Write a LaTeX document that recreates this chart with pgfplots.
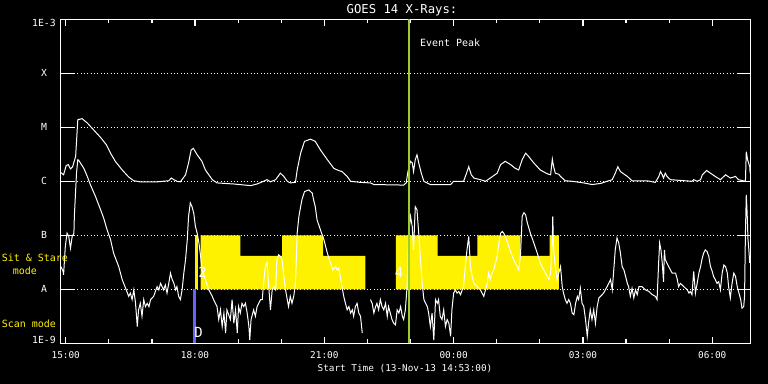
\documentclass[border=0pt]{standalone}
\usepackage{fontspec}
\setmainfont{DejaVu Sans Mono}
\usepackage{pgfplots}
\pgfplotsset{compat=1.18}
\definecolor{evgreen}{RGB}{154,205,50}
\definecolor{scanblue}{RGB}{100,100,255}
\begin{document}
\begin{tikzpicture}
\path[use as bounding box, fill=black] (0,0) rectangle (768bp,384bp);
\begin{axis}[
  at={(60.7bp,40.7bp)}, anchor=south west, scale only axis,
  width=689.6bp, height=324bp,
  xmin=-0.1167, xmax=15.8833, ymin=-9, ymax=-3,
  axis line style={white, line width=1.2bp},
  tick style={white, line width=1.2bp},
  tick align=inside,
  xtick={0,3,6,9,12,15},
  xticklabels={15:00,18:00,21:00,00:00,03:00,06:00},
  minor xtick={1,2,4,5,7,8,10,11,13,14},
  major tick length=6.7bp, minor tick length=4bp,
  ytick={-9,-8,-7,-6,-5,-4,-3},
  yticklabels={\raisebox{3.4bp}{1E-9},A,B,C,M,X,\raisebox{-4bp}{1E-3}},
  ytick style={/pgfplots/major tick length=13.5bp},
  ymajorgrids,
  major grid style={white, line width=1bp, dash pattern=on 1bp off 2.33bp},
  tick label style={font=\fontsize{9.4}{10}\selectfont, text=white, inner sep=0pt},
  xticklabel style={anchor=base, yshift=-15bp},
  yticklabel style={anchor=base, xshift=-16.7bp, yshift=-3.4bp, font=\fontsize{9.8}{11}\selectfont},
]
% Sit & Stare mode blocks
\addplot[fill=yellow, draw=none] coordinates {(3.01,-8) (3.01,-7) (3.06,-7) (3.06,-8)};
\addplot[fill=yellow, draw=none] coordinates {(3.13,-8) (3.13,-7) (4.05,-7) (4.05,-7.38) (5.02,-7.38) (5.02,-7) (5.97,-7) (5.97,-7.38) (6.95,-7.38) (6.95,-8)};
\addplot[fill=yellow, draw=none] coordinates {(7.66,-8) (7.66,-7) (8.63,-7) (8.63,-7.38) (9.55,-7.38) (9.55,-7) (10.55,-7) (10.55,-7.38) (11.23,-7.38) (11.23,-7) (11.44,-7) (11.44,-8)};
% Scan mode
\addplot[fill=scanblue, draw=none] coordinates {(2.96,-9) (2.96,-8) (3.02,-8) (3.02,-9)};
% long channel
\addplot[white, line width=1bp] coordinates {(-0.11,-5.84) (-0.05,-5.88) (0.01,-5.71) (0.06,-5.69) (0.11,-5.77) (0.16,-5.73) (0.23,-5.54) (0.28,-4.86) (0.38,-4.84) (0.50,-4.92) (0.65,-5.05) (0.81,-5.19) (0.94,-5.32) (1.04,-5.48) (1.15,-5.63) (1.31,-5.79) (1.46,-5.92) (1.58,-5.99) (1.73,-6.01) (2.12,-6.01) (2.39,-5.99) (2.45,-5.94) (2.51,-5.97) (2.58,-6.00) (2.66,-6.01) (2.78,-5.88) (2.85,-5.66) (2.91,-5.42) (2.96,-5.39) (3.05,-5.51) (3.16,-5.63) (3.24,-5.79) (3.40,-5.97) (3.51,-6.03) (3.90,-6.05) (4.29,-6.08) (4.44,-6.05) (4.59,-6.00) (4.67,-5.97) (4.75,-6.01) (4.87,-5.97) (4.98,-5.85) (5.06,-5.91) (5.14,-6.00) (5.21,-6.03) (5.33,-6.02) (5.37,-5.79) (5.45,-5.48) (5.54,-5.26) (5.68,-5.22) (5.79,-5.26) (5.91,-5.42) (6.07,-5.60) (6.22,-5.76) (6.33,-5.80) (6.41,-5.82) (6.53,-5.91) (6.61,-6.00) (6.84,-6.02) (7.07,-6.03) (7.15,-6.06) (7.84,-6.07) (7.90,-6.03) (7.94,-5.82) (8.00,-5.63) (8.04,-5.66) (8.07,-5.82) (8.11,-5.60) (8.15,-5.51) (8.19,-5.66) (8.25,-5.85) (8.31,-6.00) (8.46,-6.06) (8.93,-6.06) (9.00,-6.00) (9.23,-6.00) (9.30,-5.85) (9.35,-5.73) (9.41,-5.88) (9.47,-5.94) (9.62,-5.97) (9.74,-6.00) (9.85,-5.94) (10.01,-5.85) (10.09,-5.69) (10.20,-5.63) (10.32,-5.69) (10.43,-5.76) (10.51,-5.79) (10.59,-5.60) (10.67,-5.48) (10.74,-5.54) (10.86,-5.66) (11.01,-5.79) (11.17,-5.86) (11.25,-5.88) (11.29,-5.59) (11.32,-5.73) (11.36,-5.85) (11.44,-5.87) (11.48,-5.91) (11.59,-5.99) (11.75,-6.00) (12.02,-6.03) (12.21,-6.06) (12.41,-6.04) (12.56,-6.00) (12.68,-5.97) (12.75,-5.85) (12.81,-5.73) (12.87,-5.82) (13.03,-5.91) (13.14,-5.99) (13.49,-5.99) (13.68,-6.02) (13.76,-5.91) (13.80,-5.82) (13.84,-5.88) (13.87,-5.94) (13.91,-5.85) (13.95,-5.91) (14.03,-5.97) (14.53,-6.00) (14.57,-5.97) (14.65,-6.00) (14.73,-5.97) (14.77,-5.88) (14.87,-5.80) (14.96,-5.85) (15.07,-5.91) (15.19,-5.97) (15.31,-5.88) (15.42,-5.94) (15.54,-5.91) (15.61,-5.97) (15.77,-6.00) (15.79,-5.45) (15.82,-5.60) (15.87,-5.73) (15.88,-5.85)};
% short channel, part 1
\addplot[white, line width=1bp] coordinates {(-0.11,-7.58) (-0.06,-7.67) (-0.05,-7.73) (-0.01,-7.21) (0.03,-6.96) (0.07,-7.02) (0.11,-7.24) (0.15,-7.02) (0.19,-6.96) (0.20,-6.65) (0.25,-5.85) (0.28,-5.60) (0.30,-5.61) (0.34,-5.66) (0.42,-5.76) (0.50,-5.91) (0.57,-6.06) (0.69,-6.28) (0.81,-6.53) (0.88,-6.68) (0.96,-6.90) (1.04,-7.08) (1.11,-7.33) (1.23,-7.58) (1.31,-7.82) (1.39,-7.98) (1.46,-8.13) (1.50,-8.07) (1.54,-8.19) (1.58,-8.01) (1.62,-8.26) (1.66,-8.69) (1.69,-8.38) (1.73,-8.26) (1.77,-8.50) (1.81,-8.19) (1.85,-8.32) (1.89,-8.26) (1.93,-8.32) (1.97,-8.19) (2.04,-8.13) (2.12,-7.95) (2.16,-8.01) (2.20,-7.89) (2.27,-8.01) (2.31,-7.92) (2.35,-8.07) (2.39,-7.89) (2.43,-7.70) (2.47,-7.82) (2.51,-7.89) (2.55,-8.01) (2.58,-7.95) (2.62,-8.13) (2.66,-8.19) (2.70,-8.01) (2.74,-7.70) (2.78,-7.45) (2.82,-7.08) (2.85,-6.65) (2.89,-6.40) (2.93,-6.47) (2.97,-6.59) (3.01,-6.84) (3.05,-6.96) (3.09,-7.14) (3.13,-7.39) (3.16,-7.64) (3.24,-7.82) (3.32,-8.01) (3.40,-8.13) (3.43,-8.19) (3.51,-8.32) (3.55,-8.56) (3.59,-8.38) (3.63,-8.69) (3.67,-8.44) (3.71,-8.81) (3.74,-8.38) (3.82,-8.56) (3.86,-8.19) (3.90,-8.63) (3.94,-8.38) (3.98,-8.81) (4.01,-8.32) (4.05,-8.44) (4.09,-8.26) (4.13,-8.32) (4.17,-8.26) (4.21,-8.44) (4.25,-8.69) (4.27,-8.94) (4.30,-8.56) (4.36,-8.38) (4.40,-8.50) (4.44,-8.32) (4.52,-8.19) (4.56,-8.19) (4.59,-7.89) (4.63,-7.58) (4.67,-7.51) (4.71,-7.95) (4.75,-8.38) (4.79,-8.01) (4.83,-7.95) (4.87,-8.01) (4.90,-7.45) (4.94,-7.36) (4.98,-7.39) (5.02,-7.45) (5.06,-7.76) (5.10,-8.01) (5.14,-8.19) (5.17,-8.32) (5.21,-8.13) (5.25,-8.26) (5.29,-8.13) (5.33,-7.89) (5.37,-6.96) (5.41,-6.65) (5.45,-6.47) (5.48,-6.34) (5.54,-6.19) (5.64,-6.16) (5.72,-6.22) (5.75,-6.34) (5.79,-6.47) (5.83,-6.71) (5.91,-6.90) (5.99,-7.08) (6.07,-7.33) (6.14,-7.51) (6.20,-7.64) (6.26,-7.58) (6.30,-7.64) (6.33,-7.61) (6.37,-7.76) (6.41,-7.95) (6.45,-8.13) (6.49,-8.26) (6.53,-8.38) (6.57,-8.32) (6.61,-8.44) (6.65,-8.38) (6.68,-8.50) (6.72,-8.32) (6.76,-8.26) (6.80,-8.44) (6.84,-8.50) (6.88,-8.81)};
% short channel, part 2
\addplot[white, line width=1bp] coordinates {(7.07,-8.19) (7.11,-8.26) (7.15,-8.44) (7.19,-8.32) (7.22,-8.26) (7.26,-8.38) (7.30,-8.19) (7.34,-8.32) (7.38,-8.38) (7.42,-8.26) (7.46,-8.50) (7.49,-8.32) (7.53,-8.44) (7.57,-8.56) (7.61,-8.63) (7.65,-8.66) (7.69,-8.38) (7.73,-8.44) (7.77,-8.32) (7.81,-8.50) (7.84,-8.56) (7.88,-8.38) (7.92,-7.95) (7.96,-6.96) (8.00,-6.65) (8.04,-6.84) (8.07,-7.27) (8.11,-6.47) (8.15,-6.53) (8.19,-6.96) (8.23,-7.45) (8.27,-7.89) (8.31,-8.19) (8.35,-8.26) (8.39,-8.32) (8.42,-8.44) (8.46,-8.69) (8.50,-8.44) (8.54,-8.94) (8.58,-8.19) (8.62,-8.26) (8.65,-8.19) (8.69,-8.50) (8.73,-8.56) (8.77,-8.38) (8.81,-8.69) (8.85,-8.56) (8.89,-8.63) (8.93,-8.87) (8.96,-8.38) (9.00,-8.07) (9.04,-8.01) (9.08,-8.07) (9.12,-8.04) (9.16,-8.10) (9.20,-8.01) (9.23,-7.95) (9.27,-7.58) (9.31,-7.27) (9.35,-7.02) (9.39,-7.58) (9.43,-7.76) (9.47,-7.89) (9.55,-7.95) (9.62,-8.01) (9.70,-8.13) (9.74,-8.01) (9.78,-7.89) (9.81,-7.70) (9.85,-7.82) (9.89,-7.70) (9.93,-7.64) (10.01,-7.39) (10.05,-7.14) (10.09,-6.96) (10.13,-6.93) (10.16,-6.96) (10.20,-7.02) (10.28,-7.21) (10.36,-7.39) (10.43,-7.51) (10.51,-7.64) (10.55,-7.39) (10.59,-6.65) (10.63,-6.58) (10.67,-6.62) (10.71,-6.77) (10.78,-6.96) (10.86,-7.14) (10.94,-7.33) (11.01,-7.51) (11.05,-7.58) (11.09,-7.64) (11.17,-7.76) (11.21,-7.82) (11.25,-7.70) (11.29,-7.08) (11.30,-6.65) (11.32,-7.27) (11.36,-7.58) (11.40,-7.82) (11.44,-7.70) (11.48,-7.58) (11.52,-7.95) (11.55,-8.07) (11.59,-8.19) (11.63,-8.26) (11.67,-8.19) (11.71,-8.26) (11.75,-8.44) (11.79,-8.47) (11.83,-8.26) (11.87,-8.13) (11.90,-8.19) (11.94,-7.98) (11.98,-8.26) (12.02,-8.32) (12.06,-8.56) (12.10,-8.87) (12.13,-8.63) (12.17,-8.38) (12.21,-8.56) (12.25,-8.38) (12.29,-8.63) (12.33,-8.32) (12.37,-8.16) (12.41,-8.13) (12.48,-8.07) (12.56,-7.95) (12.64,-7.82) (12.68,-8.01) (12.71,-7.70) (12.75,-7.27) (12.79,-7.05) (12.83,-7.14) (12.87,-7.33) (12.91,-7.58) (12.95,-7.64) (12.99,-7.76) (13.03,-7.89) (13.06,-7.95) (13.10,-8.13) (13.14,-7.98) (13.18,-8.16) (13.22,-8.01) (13.26,-8.10) (13.30,-7.95) (13.37,-7.95) (13.45,-8.01) (13.53,-8.04) (13.61,-8.10) (13.68,-8.13) (13.72,-8.19) (13.76,-7.45) (13.78,-7.14) (13.81,-7.27) (13.84,-7.51) (13.87,-7.86) (13.89,-7.27) (13.91,-7.45) (13.99,-7.58) (14.07,-7.70) (14.15,-7.70) (14.19,-7.82) (14.22,-7.95) (14.26,-7.89) (14.34,-7.95) (14.42,-8.01) (14.46,-8.07) (14.49,-8.04) (14.53,-8.10) (14.57,-7.67) (14.61,-8.07) (14.65,-7.89) (14.69,-7.70) (14.73,-7.58) (14.76,-7.45) (14.80,-7.33) (14.84,-7.27) (14.88,-7.30) (14.92,-7.39) (14.96,-7.58) (15.00,-7.67) (15.03,-7.76) (15.07,-7.82) (15.11,-7.89) (15.15,-7.86) (15.19,-8.01) (15.23,-7.70) (15.27,-7.55) (15.31,-7.58) (15.35,-7.70) (15.38,-7.95) (15.42,-8.16) (15.46,-7.89) (15.50,-7.70) (15.54,-7.76) (15.58,-7.95) (15.62,-8.07) (15.66,-8.19) (15.69,-8.35) (15.73,-8.32) (15.75,-8.13) (15.77,-6.96) (15.79,-6.25) (15.81,-6.59) (15.83,-7.08) (15.85,-7.27) (15.87,-7.51)};
% event peak
\addplot[evgreen, line width=2.3bp] coordinates {(7.97,-9) (7.97,-3)};
\end{axis}
\begin{scope}[every node/.style={inner sep=0pt}]
\node[white, anchor=base, font=\fontsize{12.3}{14}\selectfont] at (402bp,370bp) {GOES 14 X-Rays:};
\node[white, anchor=base, font=\fontsize{9.4}{11}\selectfont] at (405bp,12.3bp) {Start Time (13-Nov-13 14:53:00)};
\node[white, anchor=base west, font=\fontsize{10}{11}\selectfont] at (420bp,337.5bp) {Event Peak};
\node[yellow, anchor=base west, font=\fontsize{10}{11}\selectfont] at (1.7bp,122bp) {Sit \& Stare};
\node[yellow, anchor=base west, font=\fontsize{10}{11}\selectfont] at (12.7bp,109.3bp) {mode};
\node[yellow, anchor=base west, font=\fontsize{10}{11}\selectfont] at (1.7bp,56.5bp) {Scan mode};
\node[white, anchor=base, font=\fontsize{14}{15}\selectfont] at (202.5bp,106bp) {2};
\node[white, anchor=base, font=\fontsize{14}{15}\selectfont] at (198.5bp,46bp) {D};
\node[white, anchor=base, font=\fontsize{14}{15}\selectfont] at (399bp,106bp) {4};
\end{scope}
\end{tikzpicture}
\end{document}
